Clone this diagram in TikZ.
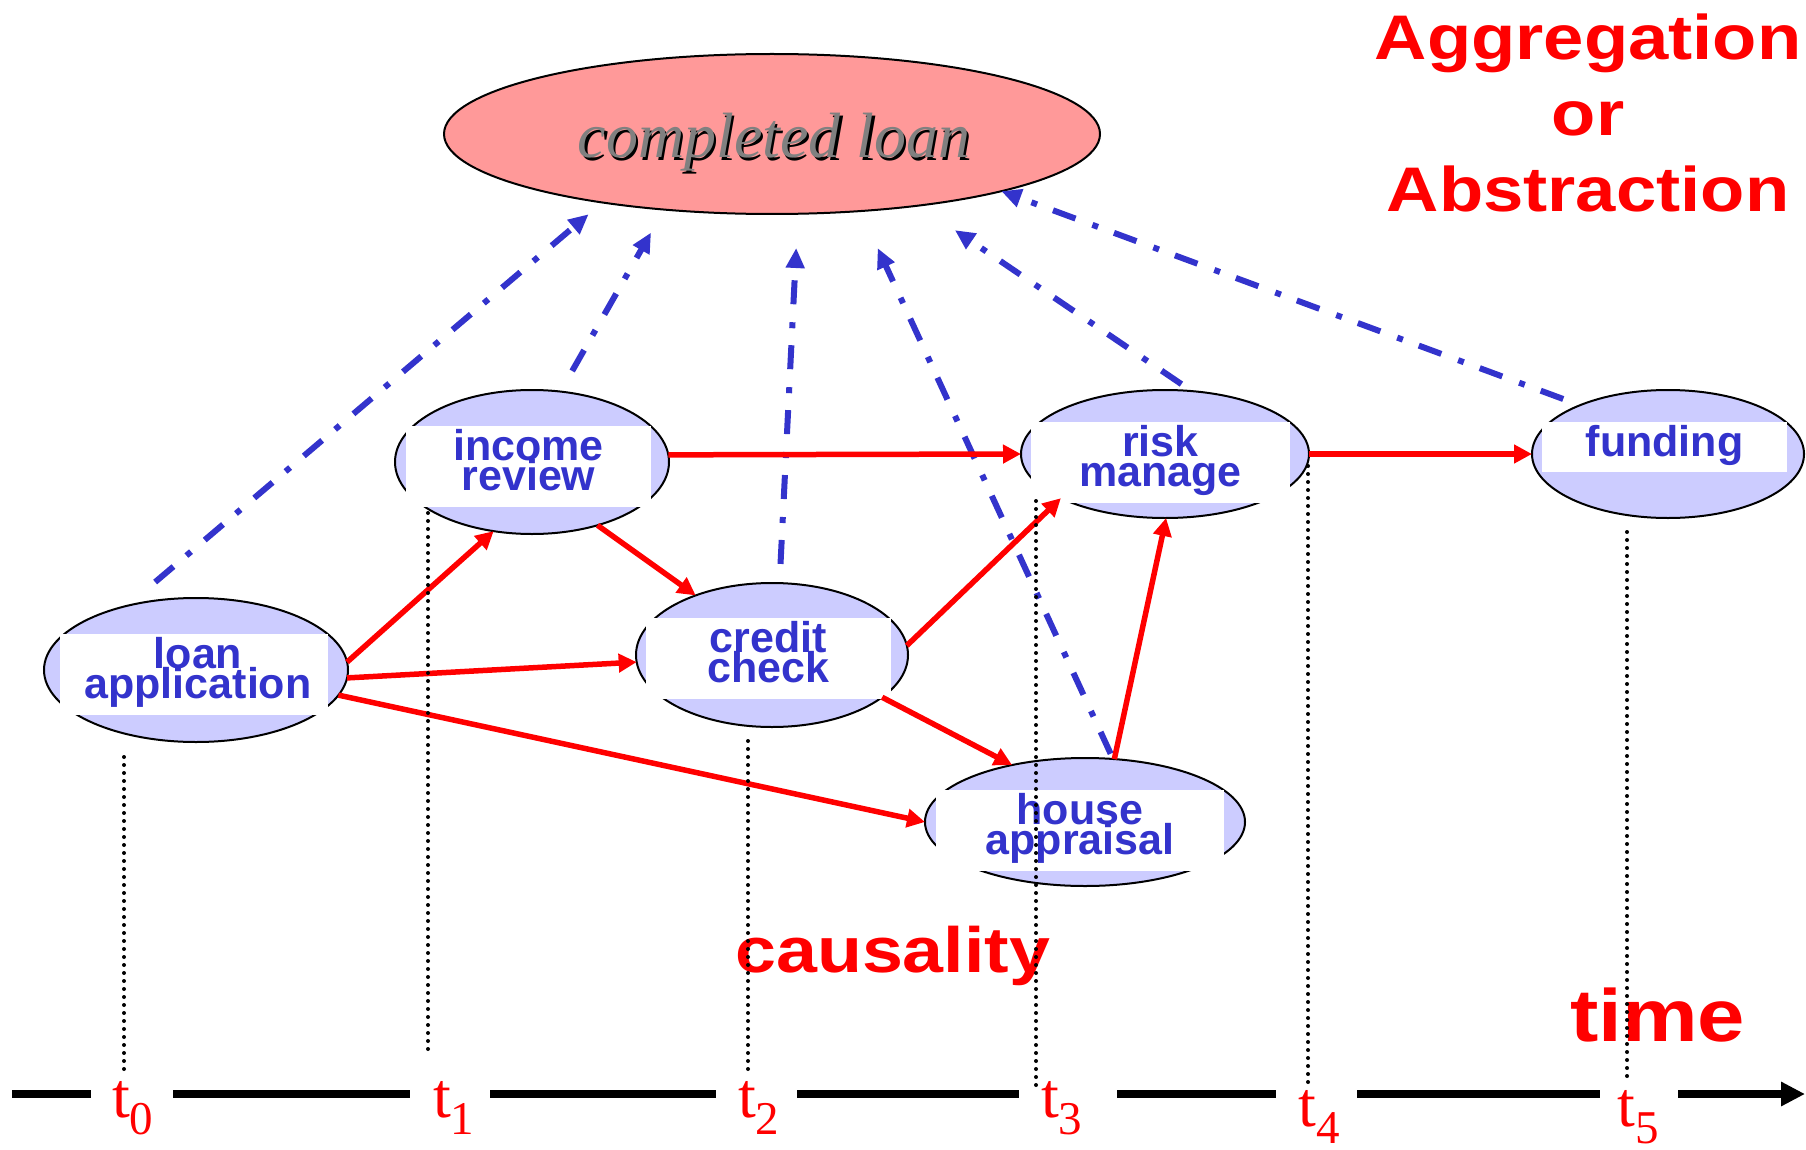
\documentclass[tikz,border=0pt]{standalone}
\usepackage{fontspec}
\usetikzlibrary{arrows.meta,shapes.geometric}
\setmainfont{Liberation Serif}
\newfontfamily\lblfont{Liberation Sans}
\newfontfamily\redfont{Liberation Sans}[FakeStretch=1.15]
\newfontfamily\seriffont{Liberation Serif}
\definecolor{nodefill}{HTML}{CCCCFF}
\definecolor{nodetext}{HTML}{3333CC}
\definecolor{loanfill}{HTML}{FF9999}
\definecolor{shadowgray}{HTML}{808080}
\newcommand\twoline[2]{\rule{0pt}{34pt}#1\\#2\rule[-17pt]{0pt}{17pt}}
\newcommand\oneline[1]{\rule[-16pt]{0pt}{50pt}#1}
\newcommand\tsub[1]{\raisebox{-17pt}{\fontsize{47}{47}\selectfont #1}}
\newcommand\tightlines{\lineskiplimit=-100pt\relax}
\begin{document}
\begin{tikzpicture}[x=1pt,y=-1pt,
  evt/.style={ellipse, draw=black, line width=2pt, fill=nodefill, inner sep=0pt, outer sep=0pt},
  lbl/.style={fill=white, inner sep=0pt, text=nodetext, align=center,
     font={\lblfont\bfseries\fontsize{43}{30}\selectfont\tightlines}},
  cause/.style={draw=red, line width=5.5pt, -{Triangle[length=18pt,width=18pt]}},
  abst/.style={draw=nodetext, line width=6pt, dash pattern=on 24pt off 17pt on 6pt off 18pt,
     -{Triangle[length=20pt,width=18pt]}},
  guide/.style={draw=black, line width=4pt, line cap=round, dash pattern=on 0pt off 8pt},
  axisline/.style={draw=black, line width=7.5pt},
  tlbl/.style={anchor=base west, inner sep=0pt, text=red, font={\seriffont\fontsize{64}{64}\selectfont}},
  bigred/.style={text=red, inner sep=0pt, font={\redfont\bfseries\fontsize{63}{76}\selectfont\tightlines}, align=center},
  loantext/.style={inner sep=0pt, anchor=base, font={\seriffont\itshape\fontsize{64}{64}\selectfont}}
]
\useasboundingbox (0,0) rectangle (1806,1150);

% completed loan
\node[evt, fill=loanfill, minimum width=656pt, minimum height=160pt] (cl) at (772,134) {};
\node[loantext, text=black] (cls) at (776.5,160.5) {completed loan};
\node[loantext, text=shadowgray] (clt) at (774,158) {completed loan};

% event nodes
\node[evt, minimum width=304pt, minimum height=144pt] (la) at (196,670) {};
\node[lbl, minimum width=268pt] (lat) at (194,674.5) {\twoline{\hspace*{8pt}loan}{\hspace*{8pt}application}};

\node[evt, minimum width=274pt, minimum height=144pt] (ir) at (532,462) {};
\node[lbl, minimum width=245pt] (irt) at (528.5,466.5) {\twoline{income}{review}};

\node[evt, minimum width=272pt, minimum height=144pt] (cc) at (772,655) {};
\node[lbl, minimum width=245pt] (cct) at (768.5,658.5) {\twoline{credit}{check}};

\node[evt, minimum width=288pt, minimum height=128pt] (rm) at (1165,454) {};
\node[lbl, minimum width=259pt] (rmt) at (1160.5,462.5) {\twoline{risk}{manage}};

\node[evt, minimum width=320pt, minimum height=128pt] (ha) at (1085,822) {};
\node[lbl, minimum width=288pt] (hat) at (1080,830.5) {\twoline{house}{appraisal}};

\node[evt, minimum width=272pt, minimum height=128pt] (fu) at (1668,454) {};
\node[lbl, minimum width=245pt] (fut) at (1664.5,447) {\oneline{funding}};

% aggregation arrows
\draw[abst, shorten <=36.7pt, shorten >=18.2pt] (la.137) -- (cl.202);
\draw[abst, shorten <=23.7pt, shorten >=26.5pt] (ir.68) -- (cl.215);
\draw[abst, shorten <=19.2pt, shorten >=34.3pt] (cc.84) -- (cl.288.5);
\draw[abst, shorten <=5.8pt, shorten >=40.9pt] (ha.66) -- (cl.319.4);
\draw[abst, shorten <=12.4pt, shorten >=43.8pt] (rm.67) -- (cl.334.8);
\draw[abst, shorten <=17.9pt] (fu.151) -- (cl.346.5);

% causality arrows
\draw[cause] (la.3) -- (ir.241);
\draw[cause] (la.357) -- (cc.183);
\draw[cause] (la.350) -- (ha.180);
\draw[cause] (ir.316) -- (cc.142);
\draw[cause] (ir.3) -- (rm.180);
\draw[cause] (cc.4) -- (rm.203);
\draw[cause] (cc.339) -- (ha.142);
\draw[cause] (ha.65) -- (rm.271);
\draw[cause] (rm.0) -- (fu.180);

% red captions
\node[bigred] (agg) at (1588,113) {\rule{0pt}{46pt}Aggregation\\or\\Abstraction};
\node[bigred, anchor=base west, font={\redfont\bfseries\fontsize{64}{64}\selectfont}] (caus) at (735,972) {causality};
\node[bigred, anchor=base west, font={\redfont\bfseries\fontsize{74}{74}\selectfont}] (time) at (1570,1041) {time};

% time axis
\coordinate (a0) at (12,1094);
\coordinate (a1) at (91,1094);
\coordinate (a2) at (173,1094);
\coordinate (a3) at (410,1094);
\coordinate (a4) at (490,1094);
\coordinate (a5) at (716,1094);
\coordinate (a6) at (797,1094);
\coordinate (a7) at (1019,1094);
\coordinate (a8) at (1117,1094);
\coordinate (a9) at (1276,1094);
\coordinate (a10) at (1357,1094);
\coordinate (a11) at (1600,1094);
\coordinate (a12) at (1678,1094);
\coordinate (a13) at (1805,1094);
\draw[axisline] (a0) -- (a1);
\draw[axisline] (a2) -- (a3);
\draw[axisline] (a4) -- (a5);
\draw[axisline] (a6) -- (a7);
\draw[axisline] (a8) -- (a9);
\draw[axisline] (a10) -- (a11);
\draw[axisline, -{Triangle[length=24pt,width=23pt]}] (a12) -- (a13);

\node[tlbl] (t0) at (112,1117) {t\tsub{0}};
\node[tlbl] (t1) at (433,1117) {t\tsub{1}};
\node[tlbl] (t2) at (738,1117) {t\tsub{2}};
\node[tlbl] (t3) at (1041,1117) {t\tsub{3}};
\node[tlbl] (t4) at (1298,1126) {t\tsub{4}};
\node[tlbl] (t5) at (1617,1126) {t\tsub{5}};

% dotted time guides
\coordinate (g0a) at (124,757);  \coordinate (g0b) at (124,1071);
\coordinate (g1a) at (428,513);  \coordinate (g1b) at (428,1054);
\coordinate (g2a) at (748,741);  \coordinate (g2b) at (748,1071);
\coordinate (g3a) at (1036,501); \coordinate (g3b) at (1036,1088);
\coordinate (g4a) at (1308,466); \coordinate (g4b) at (1308,1088);
\coordinate (g5a) at (1627,532); \coordinate (g5b) at (1627,1077);
\draw[guide] (g0a) -- (g0b);
\draw[guide] (g1a) -- (g1b);
\draw[guide] (g2a) -- (g2b);
\draw[guide] (g3a) -- (g3b);
\draw[guide] (g4a) -- (g4b);
\draw[guide] (g5a) -- (g5b);
\end{tikzpicture}
\end{document}
